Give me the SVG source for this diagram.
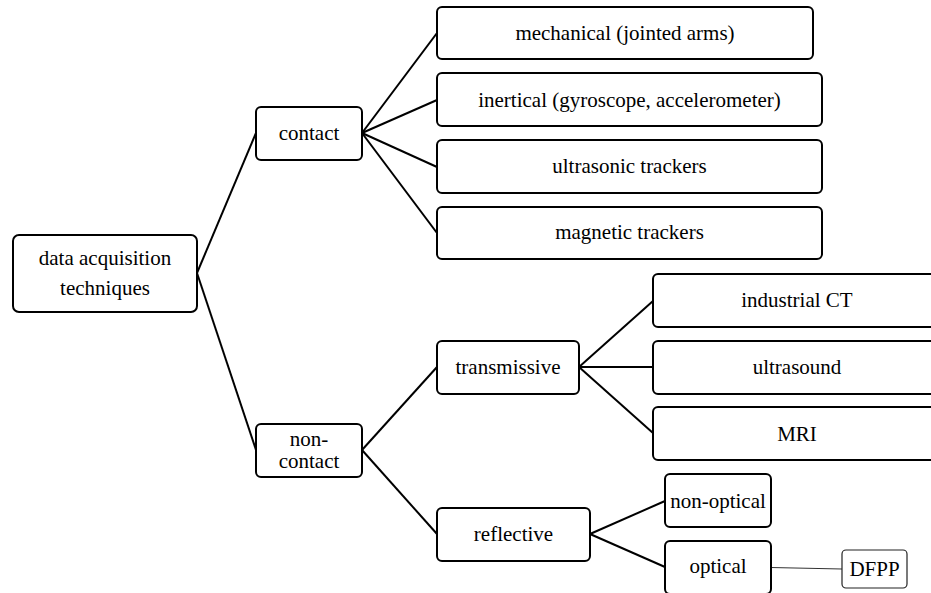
<svg xmlns="http://www.w3.org/2000/svg" width="931" height="593" viewBox="0 0 931 593">
<style>
.box{fill:#fff;stroke:#000;stroke-width:2}
.thin{fill:#fff;stroke:#222;stroke-width:1.2}
text{font-family:"Liberation Serif","Times New Roman",serif;font-size:21px;fill:#000;text-anchor:middle}
.con{stroke:#000;stroke-width:2;fill:none}
.con2{stroke:#333;stroke-width:1.2;fill:none}
</style>
<rect width="931" height="593" fill="#fff"/>
<g id="connectors">
<line class="con" x1="197" y1="273" x2="256" y2="133"/>
<line class="con" x1="197" y1="273" x2="256" y2="450"/>
<line class="con" x1="362" y1="133" x2="437" y2="33"/>
<line class="con" x1="362" y1="133" x2="437" y2="100"/>
<line class="con" x1="362" y1="133" x2="437" y2="167"/>
<line class="con" x1="362" y1="133" x2="437" y2="233"/>
<line class="con" x1="362" y1="450" x2="437" y2="367"/>
<line class="con" x1="362" y1="450" x2="437" y2="534"/>
<line class="con" x1="579" y1="367" x2="653" y2="301"/>
<line class="con" x1="579" y1="367" x2="653" y2="367"/>
<line class="con" x1="579" y1="367" x2="653" y2="433"/>
<line class="con" x1="590" y1="534" x2="665" y2="501"/>
<line class="con" x1="590" y1="534" x2="665" y2="567"/>
<line class="con2" x1="771" y1="567.5" x2="842" y2="569"/>
</g>
<g id="root">
<rect class="box" x="13" y="235" width="184" height="77" rx="6"/>
<text x="105" y="265">data acquisition</text>
<text x="105" y="295">techniques</text>
</g>
<g id="contact">
<rect class="box" x="256" y="107" width="106" height="53" rx="5"/>
<text x="309" y="140">contact</text>
</g>
<g id="noncontact">
<rect class="box" x="256" y="424" width="106" height="53" rx="5"/>
<text x="309" y="446">non-</text>
<text x="309" y="468">contact</text>
</g>
<g id="mechanical">
<rect class="box" x="437" y="7" width="376" height="52" rx="5"/>
<text x="625" y="40">mechanical (jointed arms)</text>
</g>
<g id="inertical">
<rect class="box" x="437" y="73" width="385" height="53" rx="5"/>
<text x="629.5" y="107">inertical (gyroscope, accelerometer)</text>
</g>
<g id="ultrasonic">
<rect class="box" x="437" y="140" width="385" height="53" rx="5"/>
<text x="629.5" y="173">ultrasonic trackers</text>
</g>
<g id="magnetic">
<rect class="box" x="437" y="207" width="385" height="52" rx="5"/>
<text x="629.5" y="239">magnetic trackers</text>
</g>
<g id="transmissive">
<rect class="box" x="437" y="341" width="142" height="53" rx="5"/>
<text x="508" y="374">transmissive</text>
</g>
<g id="reflective">
<rect class="box" x="437" y="508" width="153" height="53" rx="5"/>
<text x="513.5" y="541">reflective</text>
</g>
<g id="industrialCT">
<rect class="box" x="653" y="274" width="288" height="53" rx="5"/>
<text x="797" y="307">industrial CT</text>
</g>
<g id="ultrasound">
<rect class="box" x="653" y="341" width="288" height="53" rx="5"/>
<text x="797" y="374">ultrasound</text>
</g>
<g id="MRI">
<rect class="box" x="653" y="407" width="288" height="53" rx="5"/>
<text x="797" y="441">MRI</text>
</g>
<g id="nonoptical">
<rect class="box" x="665" y="474" width="106" height="53" rx="5"/>
<text x="718" y="508">non-optical</text>
</g>
<g id="optical">
<rect class="box" x="665" y="541" width="106" height="53" rx="5"/>
<text x="718" y="573">optical</text>
</g>
<g id="DFPP">
<rect class="thin" x="842" y="550" width="65" height="38" rx="4"/>
<text x="874.5" y="576">DFPP</text>
</g>
</svg>
